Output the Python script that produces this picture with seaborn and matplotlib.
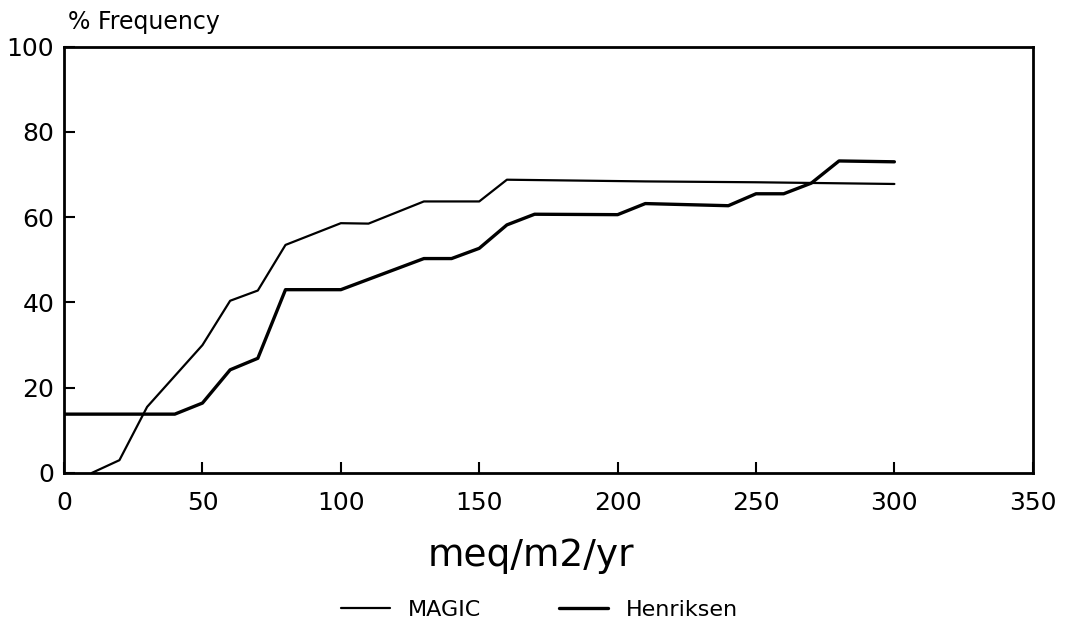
import matplotlib
matplotlib.use("Agg")
import matplotlib.pyplot as plt
import seaborn as sns
import pandas as pd

# Data
magic_x = [10, 20, 30, 50, 60, 70, 80, 100, 110, 130, 150, 160, 210, 250, 300]
magic_y = [0, 3, 15.5, 30, 40.4, 42.8, 53.5, 58.6, 58.5, 63.7, 63.7, 68.8, 68.4, 68.2, 67.8]

henriksen_x = [0, 40, 50, 60, 70, 80, 100, 130, 140, 150, 160, 170, 200, 210, 240, 250, 260, 270, 280, 300]
henriksen_y = [13.8, 13.8, 16.4, 24.2, 26.9, 43, 43, 50.3, 50.3, 52.7, 58.2, 60.7, 60.6, 63.2, 62.7, 65.5, 65.5, 68, 73.2, 73]

x_ticks = [0, 50, 100, 150, 200, 250, 300, 350]
y_ticks = [0, 20, 40, 60, 80, 100]

sns.set_theme(style="ticks")
plt.rcParams['font.family'] = ['DejaVu Sans']
plt.rcParams['text.color'] = 'black'

df = pd.concat([
    pd.DataFrame({"x": magic_x, "y": magic_y, "series": "MAGIC"}),
    pd.DataFrame({"x": henriksen_x, "y": henriksen_y, "series": "Henriksen"}),
])

fig = plt.figure(figsize=(10.68, 6.4), dpi=100)
ax = fig.add_axes([0.060, 0.261, 0.907, 0.666])

sns.lineplot(data=df[df.series == "MAGIC"], x="x", y="y", ax=ax, color="black",
             linewidth=1.6, label="MAGIC", sort=False, estimator=None)
sns.lineplot(data=df[df.series == "Henriksen"], x="x", y="y", ax=ax, color="black",
             linewidth=2.4, label="Henriksen", sort=False, estimator=None)

ax.set_xlim(0, 350)
ax.set_ylim(0, 100)
ax.set_xticks(x_ticks)
ax.set_yticks(y_ticks)
ax.set_xticklabels([str(v) for v in x_ticks], fontsize=18, color="black")
ax.set_yticklabels([str(v) for v in y_ticks], fontsize=18, color="black")
ax.tick_params(axis="x", direction="in", length=8, width=1.5, pad=13, colors="black")
ax.tick_params(axis="y", direction="in", length=8, width=1.5, pad=7, colors="black")
for s in ax.spines.values():
    s.set_visible(True)
    s.set_linewidth(2)
    s.set_color("black")
ax.set_xlabel("")
ax.set_ylabel("")

fig.text(0.064, 0.966, "% Frequency", fontsize=17, ha="left", va="center", color="black")
fig.text(0.497, 0.132, "meq/m2/yr", fontsize=27, ha="center", va="center", color="black")

leg = ax.legend(loc="center", bbox_to_anchor=(0.505, 0.047), bbox_transform=fig.transFigure,
                ncol=2, frameon=False, fontsize=16, handlelength=2.2, columnspacing=3.5)
for t in leg.get_texts():
    t.set_color("black")

fig.savefig("out.png", dpi=100, facecolor="white")
